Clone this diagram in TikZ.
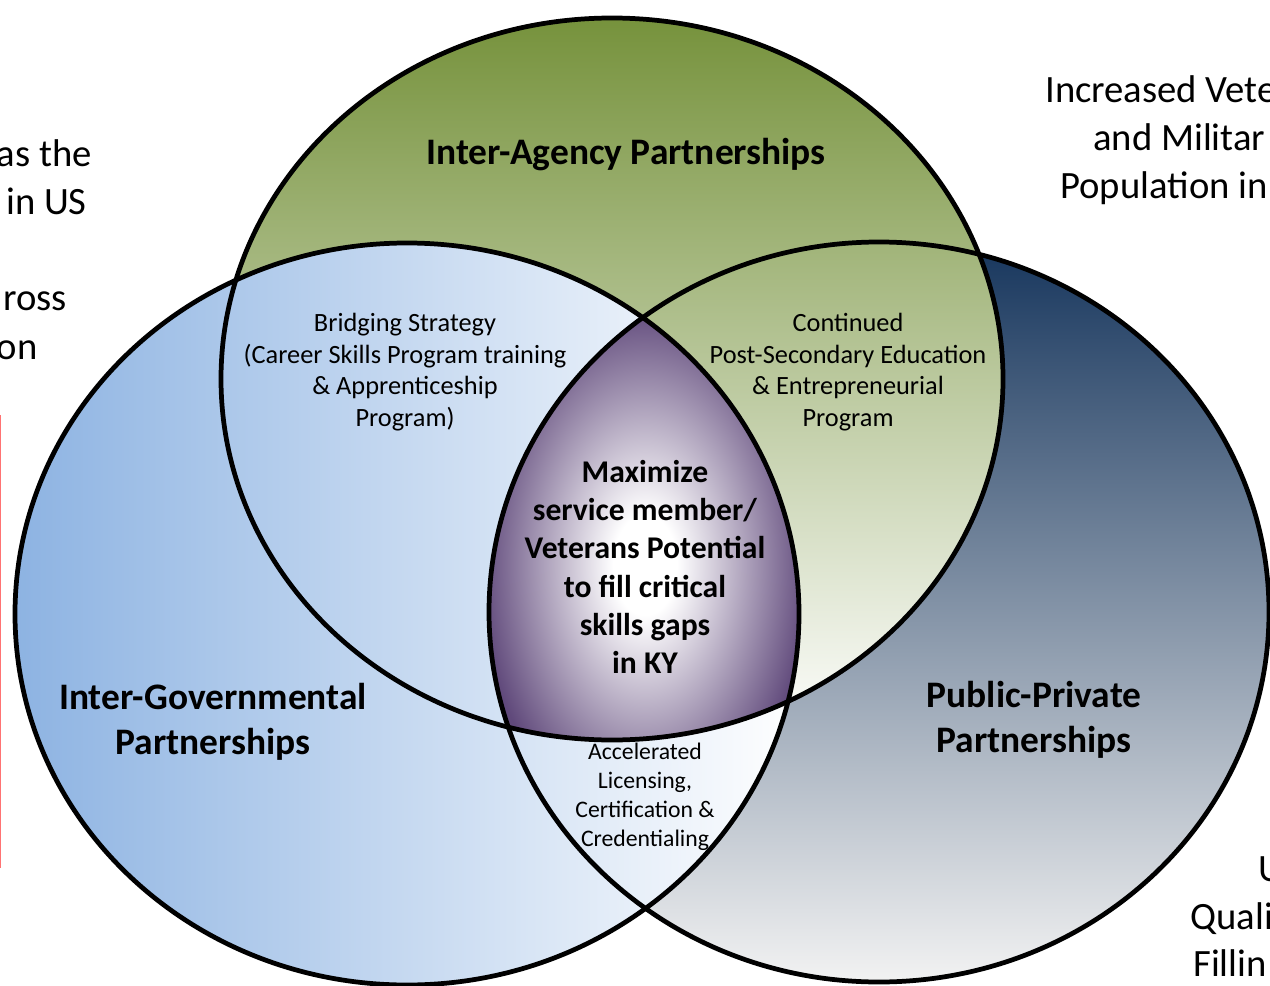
\documentclass[tikz,border=0pt]{standalone}
\usepackage{fontspec}
\setmainfont{Carlito}
\usetikzlibrary{positioning}

\definecolor{olivegreen}{RGB}{118,146,60}
\definecolor{navyblue}{RGB}{23,54,93}
\definecolor{skyblue}{RGB}{141,179,226}
\definecolor{purp}{RGB}{96,73,123}
\definecolor{redline}{RGB}{255,115,115}
\pgfdeclareradialshading{glow}{\pgfpoint{0bp}{0bp}}{color(0bp)=(white); color(5bp)=(white); color(26bp)=(purp); color(50bp)=(purp)}

\tikzset{
  ring/.style={line width=2.7pt},
  bigtitle/.style={font=\fontsize{21.3}{25.5}\selectfont\bfseries, align=center},
  midtext/.style={font=\fontsize{15}{18}\selectfont, align=center},
  coretext/.style={font=\fontsize{18}{21.8}\selectfont\bfseries, align=center},
  lowtext/.style={font=\fontsize{13.5}{16.4}\selectfont, align=center},
  sidetext/.style={font=\fontsize{22}{27}\selectfont, inner sep=0pt},
}

\begin{document}
\begin{tikzpicture}[x=0.02cm, y=-0.02cm]
\useasboundingbox (0,0) rectangle (1270,986);
\begin{scope}
\clip (0,0) rectangle (1270,986);
% the three rings
\shade[top color=navyblue, middle color=navyblue!70!white, bottom color=white!95!black]
  (879,612) ellipse [x radius=390, y radius=370];
\shade[top color=olivegreen, bottom color=white] (612,379) ellipse [x radius=391, y radius=361];
\shade[left color=skyblue, middle color=skyblue!50!white, right color=white]
  (407,614) ellipse [x radius=392, y radius=371];
% middle part
\begin{scope}
  \clip (879,612) ellipse [x radius=390, y radius=370];
  \clip (612,379) ellipse [x radius=391, y radius=361];
  \clip (407,614) ellipse [x radius=392, y radius=371];
  \shade[shading=glow] (486,315) rectangle (804,815);
\end{scope}
\draw[ring] (879,612) ellipse [x radius=390, y radius=370];
\draw[ring] (612,379) ellipse [x radius=391, y radius=361];
\draw[ring] (407,614) ellipse [x radius=392, y radius=371];

\draw[redline, line width=0.9pt] (0.6,415) -- (0.6,868);

% cut-off side texts
\node[sidetext, anchor=base east] (leftA) at (92,167) {as the};
\node[sidetext, anchor=base east] (leftB) at (87,215) {in US};
\node[sidetext, anchor=base east] (leftC) at (67,311) {ross};
\node[sidetext, anchor=base east] (leftD) at (38,359) {on};
\node[sidetext, anchor=base west] (rightA) at (1045,103) {Increased Vete};
\node[sidetext, anchor=base west] (rightB) at (1093,151) {and Militar};
\node[sidetext, anchor=base west] (rightC) at (1060,199) {Population in};
\node[sidetext, anchor=base west] (lowA) at (1258,881) {U};
\node[sidetext, anchor=base west] (lowB) at (1190,929) {Quali};
\node[sidetext, anchor=base west] (lowC) at (1193,976) {Fillin};
\end{scope}

% labels
\node[bigtitle] (agency) at (626,155) {Inter-Agency Partnerships};
\node[bigtitle] (govern) at (213,722) {Inter-Governmental\\Partnerships};
\node[bigtitle] (private) at (1034,720) {Public-Private\\Partnerships};
\node[midtext] (bridging) at (405,372) {Bridging Strategy\\(Career Skills Program training\\\& Apprenticeship\\Program)};
\node[midtext] (continued) at (848,372) {Continued\\Post-Secondary Education\\\& Entrepreneurial\\Program};
\node[coretext] (maximize) at (645,567) {Maximize\\service member/\\Veterans Potential\\to fill critical\\skills gaps\\in KY};
\node[lowtext] (licensing) at (645,797) {Accelerated\\Licensing,\\Certification \&\\Credentialing};
\end{tikzpicture}
\end{document}
